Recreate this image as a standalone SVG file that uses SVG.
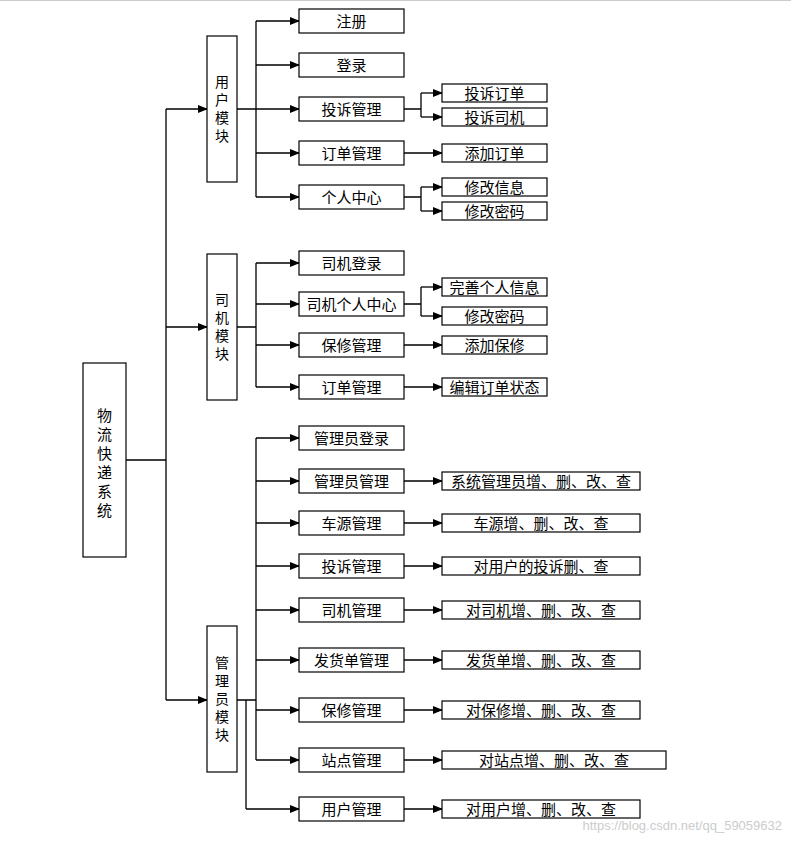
<svg xmlns="http://www.w3.org/2000/svg" width="791" height="847" viewBox="0 0 791 847">
<defs>
<style>
.b{fill:#fff;stroke:#000;stroke-width:1.2}
.t{font-family:"Noto Sans CJK SC",sans-serif;font-size:15px;text-anchor:middle;dominant-baseline:central;fill:#000}
.v{font-size:14px}
.c path{fill:none;stroke:#000;stroke-width:1.3}
</style>
<marker id="a" markerWidth="10" markerHeight="8" refX="9" refY="4" orient="auto" markerUnits="userSpaceOnUse"><path d="M0,0L10,4L0,8z" fill="#000"/></marker>
</defs>
<rect width="791" height="847" fill="#fff"/>
<line x1="0" y1="0.5" x2="791" y2="0.5" stroke="#ccc"/>
<g class="c">
<path d="M126,460H166M166,109V700"/>
<path d="M166,109H207" marker-end="url(#a)"/><path d="M166,327H207" marker-end="url(#a)"/><path d="M166,700H207" marker-end="url(#a)"/>
<path d="M237,109H256M256,21V197"/>
<path d="M256,21H299" marker-end="url(#a)"/><path d="M256,65H299" marker-end="url(#a)"/><path d="M256,109H299" marker-end="url(#a)"/><path d="M256,153H299" marker-end="url(#a)"/><path d="M256,197H299" marker-end="url(#a)"/>
<path d="M404,109H421M421,93V117"/><path d="M421,93H442" marker-end="url(#a)"/><path d="M421,117H442" marker-end="url(#a)"/>
<path d="M404,153H442" marker-end="url(#a)"/>
<path d="M404,197H421M421,187V211"/><path d="M421,187H442" marker-end="url(#a)"/><path d="M421,211H442" marker-end="url(#a)"/>
<path d="M237,327H256M256,263V387"/>
<path d="M256,263H299" marker-end="url(#a)"/><path d="M256,304H299" marker-end="url(#a)"/><path d="M256,345H299" marker-end="url(#a)"/><path d="M256,387H299" marker-end="url(#a)"/>
<path d="M404,304H421M421,287V316"/><path d="M421,287H442" marker-end="url(#a)"/><path d="M421,316H442" marker-end="url(#a)"/>
<path d="M404,345H442" marker-end="url(#a)"/><path d="M404,387H442" marker-end="url(#a)"/>
<path d="M237,700H256M256,438V760M246,700V809"/>
<path d="M256,438H299" marker-end="url(#a)"/><path d="M256,481H299" marker-end="url(#a)"/><path d="M256,523H299" marker-end="url(#a)"/><path d="M256,566H299" marker-end="url(#a)"/><path d="M256,610H299" marker-end="url(#a)"/><path d="M256,660H299" marker-end="url(#a)"/><path d="M256,710H299" marker-end="url(#a)"/><path d="M256,760H299" marker-end="url(#a)"/><path d="M246,809H299" marker-end="url(#a)"/>
<path d="M404,481H442" marker-end="url(#a)"/><path d="M404,523H442" marker-end="url(#a)"/><path d="M404,566H442" marker-end="url(#a)"/><path d="M404,610H442" marker-end="url(#a)"/><path d="M404,660H442" marker-end="url(#a)"/><path d="M404,710H442" marker-end="url(#a)"/><path d="M404,760H442" marker-end="url(#a)"/><path d="M404,809H442" marker-end="url(#a)"/>
</g>
<g id="root"><rect class="b" x="83" y="363" width="43" height="194"/><text class="t" x="104.5" y="414">物</text><text class="t" x="104.5" y="433">流</text><text class="t" x="104.5" y="452">快</text><text class="t" x="104.5" y="471">递</text><text class="t" x="104.5" y="490">系</text><text class="t" x="104.5" y="509">统</text></g>
<g id="m-user"><rect class="b" x="207" y="36" width="30" height="146"/><text class="t v" x="222" y="81">用</text><text class="t v" x="222" y="99">户</text><text class="t v" x="222" y="117">模</text><text class="t v" x="222" y="135">块</text></g>
<g id="m-driver"><rect class="b" x="207" y="254" width="30" height="146"/><text class="t v" x="222" y="299">司</text><text class="t v" x="222" y="317">机</text><text class="t v" x="222" y="335">模</text><text class="t v" x="222" y="353">块</text></g>
<g id="m-admin"><rect class="b" x="207" y="626" width="30" height="146"/><text class="t v" x="222" y="662">管</text><text class="t v" x="222" y="680">理</text><text class="t v" x="222" y="698">员</text><text class="t v" x="222" y="716">模</text><text class="t v" x="222" y="734">块</text></g>
<g id="u1"><rect class="b" x="299" y="9" width="105" height="24"/><text class="t" x="351.5" y="20">注册</text></g>
<g id="u2"><rect class="b" x="299" y="53" width="105" height="24"/><text class="t" x="351.5" y="64">登录</text></g>
<g id="u3"><rect class="b" x="299" y="97" width="105" height="24"/><text class="t" x="351.5" y="108">投诉管理</text></g>
<g id="u4"><rect class="b" x="299" y="141" width="105" height="24"/><text class="t" x="351.5" y="152">订单管理</text></g>
<g id="u5"><rect class="b" x="299" y="185" width="105" height="24"/><text class="t" x="351.5" y="196">个人中心</text></g>
<g id="u31"><rect class="b" x="442" y="84" width="105" height="18"/><text class="t" x="494.5" y="92">投诉订单</text></g>
<g id="u32"><rect class="b" x="442" y="108" width="105" height="18"/><text class="t" x="494.5" y="116">投诉司机</text></g>
<g id="u41"><rect class="b" x="442" y="144" width="105" height="18"/><text class="t" x="494.5" y="152">添加订单</text></g>
<g id="u51"><rect class="b" x="442" y="178" width="105" height="18"/><text class="t" x="494.5" y="186">修改信息</text></g>
<g id="u52"><rect class="b" x="442" y="202" width="105" height="18"/><text class="t" x="494.5" y="210">修改密码</text></g>
<g id="d1"><rect class="b" x="299" y="251" width="105" height="24"/><text class="t" x="351.5" y="262">司机登录</text></g>
<g id="d2"><rect class="b" x="299" y="292" width="105" height="24"/><text class="t" x="351.5" y="303">司机个人中心</text></g>
<g id="d3"><rect class="b" x="299" y="333" width="105" height="24"/><text class="t" x="351.5" y="344">保修管理</text></g>
<g id="d4"><rect class="b" x="299" y="375" width="105" height="24"/><text class="t" x="351.5" y="386">订单管理</text></g>
<g id="d21"><rect class="b" x="442" y="278" width="105" height="18"/><text class="t" x="494.5" y="286">完善个人信息</text></g>
<g id="d22"><rect class="b" x="442" y="307" width="105" height="18"/><text class="t" x="494.5" y="315">修改密码</text></g>
<g id="d31"><rect class="b" x="442" y="336" width="105" height="18"/><text class="t" x="494.5" y="344">添加保修</text></g>
<g id="d41"><rect class="b" x="442" y="378" width="105" height="18"/><text class="t" x="494.5" y="386">编辑订单状态</text></g>
<g id="a1"><rect class="b" x="299" y="426" width="105" height="24"/><text class="t" x="351.5" y="437">管理员登录</text></g>
<g id="a2"><rect class="b" x="299" y="469" width="105" height="24"/><text class="t" x="351.5" y="480">管理员管理</text></g>
<g id="a3"><rect class="b" x="299" y="511" width="105" height="24"/><text class="t" x="351.5" y="522">车源管理</text></g>
<g id="a4"><rect class="b" x="299" y="554" width="105" height="24"/><text class="t" x="351.5" y="565">投诉管理</text></g>
<g id="a5"><rect class="b" x="299" y="598" width="105" height="24"/><text class="t" x="351.5" y="609">司机管理</text></g>
<g id="a6"><rect class="b" x="299" y="648" width="105" height="24"/><text class="t" x="351.5" y="659">发货单管理</text></g>
<g id="a7"><rect class="b" x="299" y="698" width="105" height="24"/><text class="t" x="351.5" y="709">保修管理</text></g>
<g id="a8"><rect class="b" x="299" y="748" width="105" height="24"/><text class="t" x="351.5" y="759">站点管理</text></g>
<g id="a9"><rect class="b" x="299" y="797" width="105" height="24"/><text class="t" x="351.5" y="808">用户管理</text></g>
<g id="a21"><rect class="b" x="442" y="472" width="198" height="18"/><text class="t" x="541" y="480">系统管理员增、删、改、查</text></g>
<g id="a31"><rect class="b" x="442" y="514" width="198" height="18"/><text class="t" x="541" y="522">车源增、删、改、查</text></g>
<g id="a41"><rect class="b" x="442" y="557" width="198" height="18"/><text class="t" x="541" y="565">对用户的投诉删、查</text></g>
<g id="a51"><rect class="b" x="442" y="601" width="198" height="18"/><text class="t" x="541" y="609">对司机增、删、改、查</text></g>
<g id="a61"><rect class="b" x="442" y="651" width="198" height="18"/><text class="t" x="541" y="659">发货单增、删、改、查</text></g>
<g id="a71"><rect class="b" x="442" y="701" width="198" height="18"/><text class="t" x="541" y="709">对保修增、删、改、查</text></g>
<g id="a81"><rect class="b" x="442" y="751" width="224" height="18"/><text class="t" x="554" y="759">对站点增、删、改、查</text></g>
<g id="a91"><rect class="b" x="442" y="800" width="198" height="18"/><text class="t" x="541" y="808">对用户增、删、改、查</text></g>
<text x="782" y="830" font-family="Liberation Sans,sans-serif" font-size="13" fill="#ccc" text-anchor="end">https://blog.csdn.net/qq_59059632</text>
</svg>
